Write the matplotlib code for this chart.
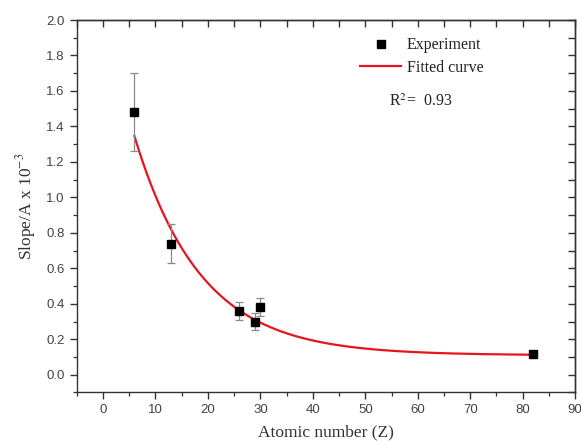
import numpy as np
import matplotlib
matplotlib.use("Agg")
import matplotlib.pyplot as plt
from matplotlib.ticker import MultipleLocator, FormatStrFormatter

plt.rcParams["mathtext.fontset"] = "stix"

# Measured slopes versus atomic number
atomic_number = [6, 13, 26, 29, 30, 82]
slope = [1.48, 0.74, 0.36, 0.30, 0.38, 0.115]
slope_err = [0.22, 0.11, 0.05, 0.05, 0.05, 0.0]

# Exponential decay fit: y = y0 + A * exp(-x / t)
fit_y0 = 0.11
fit_A = 1.99
fit_t = 12.6
fit_range = (6, 82)
r_squared = 0.93

serif = "Liberation Serif"
sans = "Liberation Sans"
axis_color = "#333333"

fig = plt.figure(figsize=(5.81, 4.45), dpi=100)
ax = fig.add_axes([0.132, 0.118, 0.858, 0.837])

ax.errorbar(atomic_number, slope, yerr=slope_err, fmt="none", ecolor="#8a8a8a",
            elinewidth=0.9, capsize=3, capthick=0.9, zorder=3)
ax.plot(atomic_number, slope, "s", color="black", ms=6, ls="none",
        label="Experiment", zorder=4)

xf = np.linspace(fit_range[0], fit_range[1], 300)
yf = fit_y0 + fit_A * np.exp(-xf / fit_t)
ax.plot(xf, yf, color="#e8141c", lw=1.6, label="Fitted curve", zorder=2)

ax.set_xlim(-5, 90)
ax.set_ylim(-0.1, 2.0)
ax.xaxis.set_major_locator(MultipleLocator(10))
ax.xaxis.set_minor_locator(MultipleLocator(5))
ax.yaxis.set_major_locator(MultipleLocator(0.2))
ax.yaxis.set_minor_locator(MultipleLocator(0.1))
ax.yaxis.set_major_formatter(FormatStrFormatter("%.1f"))

ax.tick_params(which="both", direction="out", colors=axis_color,
               labelcolor="#444444")
ax.tick_params(which="major", length=5, width=1.0, labelsize=9.5)
ax.tick_params(which="minor", length=3, width=0.9)
for lab in ax.get_xticklabels() + ax.get_yticklabels():
    lab.set_family(sans)

# inward ticks on the top and right frame edges
secx = ax.secondary_xaxis("top")
secx.xaxis.set_major_locator(MultipleLocator(5))
secx.tick_params(direction="in", length=5, width=1.0, labeltop=False,
                 colors=axis_color)
secy = ax.secondary_yaxis("right")
secy.yaxis.set_major_locator(MultipleLocator(0.1))
secy.tick_params(direction="in", length=5, width=1.0, labelright=False,
                 colors=axis_color)

for a in (ax, secx, secy):
    for sp in a.spines.values():
        sp.set_linewidth(1.0)
        sp.set_color(axis_color)

ax.set_xlabel("Atomic number (Z)", fontfamily=serif, fontsize=12.5,
              color=axis_color, labelpad=6)
ax.set_ylabel(r"Slope/A x 10$^{-3}$", fontfamily=serif, fontsize=12.5,
              color=axis_color, labelpad=6)

ax.legend(loc="upper left", bbox_to_anchor=(0.555, 0.971), borderaxespad=0,
          frameon=False, prop={"family": serif, "size": 11.5},
          handlelength=2.6, handletextpad=0.35, labelspacing=0.4,
          labelcolor="#222222")
ax.text(0.627, 0.77, r"R$^2$=  " + f"{r_squared:.2f}", transform=ax.transAxes,
        fontfamily=serif, fontsize=11.5, color="#222222")

fig.savefig("out.png", dpi=100)
